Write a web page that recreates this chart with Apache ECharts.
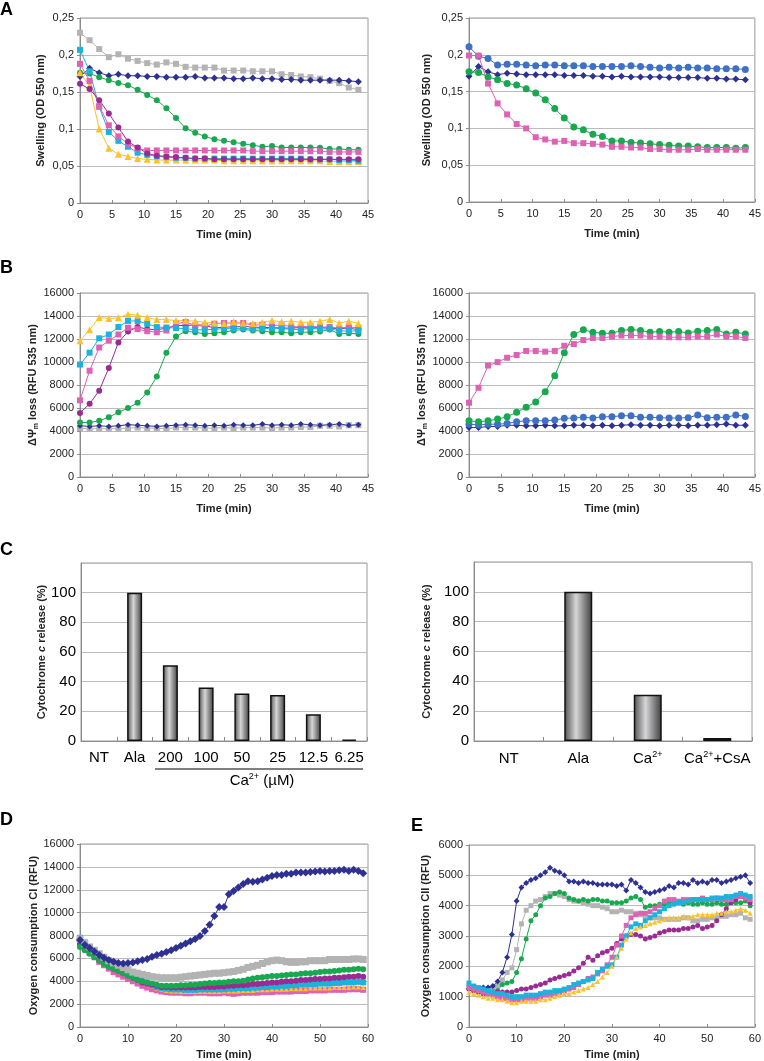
<!DOCTYPE html>
<html><head><meta charset="utf-8">
<script src="https://cdn.jsdelivr.net/npm/echarts@6/dist/echarts.min.js"></script>
<style>html,body{margin:0;padding:0;background:#fff}#c{width:764px;height:1061px}</style>
</head><body><div id="c"></div>
<script>
// ---------- DATA ----------
const tAB = [0,1.5,3,4.5,6,7.5,9,10.5,12,13.5,15,16.5,18,19.5,21,22.5,24,25.5,27,28.5,30,31.5,33,34.5,36,37.5,39,40.5,42,43.5];
const tDE = [0,1,2,3,4,5,6,7,8,9,10,11,12,13,14,15,16,17,18,19,20,21,22,23,24,25,26,27,28,29,30,31,32,33,34,35,36,37,38,39,40,41,42,43,44,45,46,47,48,49,50,51,52,53,54,55,56,57,58,59];

// Panel A left (swelling, OD 550 nm)
const aL_grey   = [0.230,0.220,0.208,0.197,0.201,0.195,0.192,0.189,0.187,0.190,0.188,0.184,0.183,0.183,0.183,0.179,0.179,0.179,0.178,0.178,0.178,0.174,0.173,0.171,0.170,0.168,0.165,0.162,0.156,0.153];
const aL_navy   = [0.171,0.182,0.176,0.172,0.174,0.172,0.172,0.171,0.171,0.170,0.170,0.170,0.171,0.169,0.169,0.169,0.168,0.168,0.169,0.168,0.168,0.167,0.167,0.166,0.166,0.166,0.166,0.166,0.165,0.164];
const aL_green  = [0.176,0.175,0.170,0.166,0.162,0.159,0.153,0.146,0.139,0.128,0.115,0.101,0.095,0.090,0.086,0.084,0.082,0.080,0.078,0.076,0.077,0.075,0.075,0.075,0.075,0.0745,0.073,0.073,0.072,0.072];
const aL_pink   = [0.188,0.165,0.131,0.105,0.090,0.080,0.074,0.071,0.071,0.071,0.071,0.071,0.071,0.071,0.071,0.071,0.071,0.071,0.070,0.070,0.070,0.070,0.070,0.070,0.070,0.070,0.069,0.069,0.069,0.069];
const aL_cyan   = [0.207,0.178,0.130,0.096,0.084,0.076,0.068,0.065,0.063,0.062,0.061,0.061,0.060,0.060,0.060,0.060,0.060,0.060,0.060,0.060,0.060,0.060,0.060,0.060,0.059,0.059,0.059,0.058,0.058,0.057];
const aL_purple = [0.161,0.154,0.139,0.121,0.102,0.083,0.075,0.067,0.064,0.063,0.062,0.061,0.060,0.060,0.059,0.059,0.059,0.059,0.059,0.059,0.059,0.059,0.059,0.059,0.059,0.059,0.059,0.059,0.059,0.059];
const aL_yellow = [0.176,0.158,0.100,0.074,0.066,0.063,0.060,0.059,0.058,0.058,0.058,0.058,0.058,0.058,0.058,0.057,0.057,0.057,0.057,0.057,0.057,0.057,0.057,0.057,0.057,0.057,0.056,0.056,0.056,0.056];

// Panel A right
const aR_blue  = [0.211,0.198,0.195,0.186,0.187,0.187,0.186,0.185,0.186,0.186,0.185,0.185,0.185,0.184,0.184,0.184,0.184,0.185,0.184,0.183,0.182,0.183,0.182,0.183,0.182,0.182,0.181,0.181,0.181,0.180];
const aR_navy  = [0.171,0.184,0.177,0.173,0.175,0.174,0.173,0.173,0.173,0.173,0.172,0.172,0.172,0.171,0.171,0.170,0.171,0.170,0.170,0.170,0.170,0.169,0.169,0.169,0.169,0.168,0.168,0.167,0.167,0.166];
const aR_green = [0.177,0.176,0.170,0.166,0.161,0.159,0.154,0.148,0.139,0.127,0.114,0.102,0.098,0.092,0.089,0.083,0.083,0.081,0.080,0.079,0.078,0.077,0.076,0.076,0.075,0.074,0.074,0.074,0.073,0.074];
const aR_pink  = [0.199,0.199,0.161,0.134,0.119,0.106,0.100,0.088,0.085,0.082,0.083,0.080,0.080,0.079,0.078,0.075,0.075,0.074,0.074,0.072,0.072,0.071,0.071,0.071,0.072,0.071,0.071,0.071,0.071,0.071];

// Panel B left (membrane potential loss, RFU 535 nm)
const bL_yellow = [11850,12800,13870,13780,13840,14160,14070,13870,13690,13690,13600,13600,13550,13450,13400,13350,13500,13400,13350,13450,13600,13500,13550,13450,13450,13550,13700,13400,13550,13350];
const bL_cyan   = [9780,10810,12060,12390,13040,13570,13570,13330,13040,13000,12950,12900,12800,12800,12850,12900,12900,12950,12850,12900,12950,12900,12850,12800,12950,12850,12900,12700,12700,12700];
const bL_pink   = [6670,9240,11260,11850,12390,12980,12860,12680,12590,12740,13330,13480,13190,13100,13330,13390,13390,13390,13190,13250,13190,13190,13100,13040,13130,13040,13040,12950,13040,12980];
const bL_purple = [5570,6370,7500,9480,11700,12650,13040,12860,12800,12950,13190,13160,13240,13190,12950,13040,13040,13100,13040,13000,13000,12950,12950,13000,12950,13000,12950,12900,12950,12800];
const bL_green  = [4740,4740,4890,5190,5630,5990,6460,7350,8740,10810,12210,12680,12590,12440,12500,12590,12740,12830,12740,12680,12590,12590,12500,12590,12590,12650,12830,12440,12500,12440];
const bL_navy   = [4450,4400,4450,4400,4450,4550,4500,4450,4400,4450,4500,4550,4500,4450,4500,4450,4550,4500,4500,4600,4500,4550,4500,4600,4550,4500,4550,4600,4500,4550];
const bL_grey   = [4250,4200,4200,4200,4200,4250,4300,4250,4250,4200,4300,4300,4300,4250,4250,4300,4250,4300,4300,4300,4250,4300,4300,4350,4350,4450,4450,4400,4500,4500];

// Panel B right
const bR_pink  = [6460,7760,9690,9990,10370,10610,10960,10960,10900,10960,11410,11560,11910,12090,12090,12210,12300,12300,12300,12210,12210,12150,12150,12150,12210,12210,12390,12210,12210,12090];
const bR_green = [4890,4800,4890,5040,5240,5630,6070,6520,7410,8800,10810,12390,12800,12590,12500,12500,12740,12830,12740,12590,12650,12590,12650,12530,12680,12740,12830,12440,12590,12440];
const bR_blue  = [4590,4530,4590,4590,4650,4800,4890,4890,4890,4950,5100,5130,5190,5130,5240,5240,5330,5330,5190,5190,5160,5130,5130,5160,5390,5160,5190,5190,5390,5270];
const bR_navy  = [4300,4300,4390,4390,4500,4500,4450,4450,4500,4450,4450,4500,4500,4450,4500,4450,4500,4550,4500,4500,4450,4500,4500,4450,4500,4500,4550,4600,4500,4500];

// Panel C (cytochrome c release, %)
const cL_cats = ['NT','Ala','200','100','50','25','12.5','6.25'];
const cL_vals = [0,100,51,36,32,31,18,1];
const cR_cats = ['NT','Ala','Ca2+','Ca2++CsA'];
const cR_vals = [0,100,31,2];

// Panel D (oxygen consumption CI, RFU)
const dNavy   = [7600,7200,6900,6600,6300,6050,5850,5700,5600,5550,5600,5650,5750,5850,5950,6150,6300,6400,6550,6700,6900,7100,7300,7500,7700,7950,8400,8950,9700,10500,10500,11600,11900,12200,12500,12750,12700,12750,12900,13050,13200,13300,13300,13400,13400,13500,13500,13500,13550,13600,13650,13600,13650,13650,13700,13750,13650,13750,13650,13450];
const dGrey   = [7700,7300,7000,6700,6400,6100,5800,5600,5400,5200,5000,4800,4700,4600,4500,4400,4350,4300,4300,4300,4300,4350,4400,4450,4500,4550,4600,4650,4700,4700,4750,4800,4850,4950,5050,5200,5300,5400,5550,5700,5800,5850,5800,5700,5650,5650,5700,5700,5800,5800,5800,5800,5900,5900,5900,5900,5900,5950,5950,5900];
const dGreen  = [7000,6700,6400,6100,5800,5500,5300,5100,4900,4700,4500,4300,4100,4000,3900,3800,3700,3600,3600,3600,3600,3650,3650,3700,3700,3750,3800,3850,3850,3900,3900,3950,4000,4000,4050,4150,4250,4300,4350,4400,4450,4450,4500,4550,4600,4600,4650,4700,4700,4750,4800,4850,4850,4900,4950,5000,5000,5050,5100,5050];
const dPurple = [7200,6800,6500,6200,5900,5600,5300,5100,4900,4700,4500,4300,4100,3900,3800,3700,3600,3500,3500,3450,3450,3450,3450,3450,3450,3500,3500,3500,3500,3550,3550,3600,3600,3650,3650,3700,3750,3750,3800,3850,3900,3900,3950,4000,4000,4050,4100,4100,4150,4200,4200,4250,4250,4300,4300,4350,4400,4400,4450,4400];
const dCyan   = [7800,7400,7000,6700,6400,6100,5800,5600,5400,5200,5000,4700,4400,4100,3900,3700,3500,3400,3350,3300,3300,3300,3250,3250,3250,3300,3300,3300,3300,3300,3300,3350,3350,3400,3400,3400,3450,3450,3500,3500,3550,3550,3600,3600,3650,3650,3700,3700,3750,3750,3800,3800,3800,3850,3850,3900,3900,3900,3950,3900];
const dYellow = [7600,7200,6800,6500,6200,5900,5600,5300,5000,4800,4600,4400,4200,4000,3800,3600,3400,3300,3200,3150,3150,3100,3100,3100,3100,3100,3100,3100,3100,3100,3150,3150,3150,3150,3200,3200,3200,3250,3250,3250,3300,3300,3300,3300,3350,3350,3350,3350,3400,3400,3400,3400,3400,3450,3450,3450,3450,3500,3500,3450];
const dPink   = [7400,6900,6500,6100,5700,5400,5100,4800,4600,4400,4200,4000,3800,3600,3450,3300,3200,3100,3050,3000,3000,3000,2950,2950,3000,3000,3000,2950,2950,2950,3000,2950,2900,2950,3000,3000,3000,3000,3050,3050,3050,3100,3100,3100,3100,3150,3150,3150,3200,3200,3200,3200,3250,3250,3250,3250,3300,3300,3300,3250];

// Panel E (oxygen consumption CII, RFU)
const eNavy   = [1250,1200,1250,1300,1300,1350,1500,1800,2300,3050,4150,4600,4750,4850,4900,5000,5100,5250,5150,5100,5000,4800,4800,4750,4800,4750,4750,4700,4700,4700,4700,4650,4700,4500,4850,4750,4600,4450,4400,4450,4500,4550,4650,4600,4750,4750,4700,4850,4750,4800,4750,4850,4850,4750,4800,4850,4900,4950,5000,4750];
const eGrey   = [1350,1300,1250,1250,1250,1250,1350,1550,1800,1950,2550,3400,3850,4000,4150,4200,4300,4400,4400,4350,4300,4200,4150,4150,4100,4050,4000,4000,3950,3900,3800,3800,3850,3800,3800,3750,3700,3650,3600,3600,3600,3550,3550,3550,3550,3600,3600,3500,3500,3550,3550,3600,3600,3650,3650,3700,3700,3750,3600,3550];
const eGreen  = [1250,1200,1150,1100,1100,1150,1200,1400,1450,1500,1800,2250,2900,3500,3700,4000,4250,4300,4400,4450,4400,4250,4200,4150,4200,4150,4200,4200,4150,4150,4100,4100,4100,4150,4250,4300,4200,3950,4000,4000,4050,4050,4100,4100,4100,4050,4100,4050,4050,4100,4050,4050,4100,4050,4050,4100,4100,4100,4150,4000];
const ePurple = [1250,1200,1150,1100,1100,1100,1150,1150,1150,1150,1200,1250,1250,1300,1350,1400,1450,1550,1600,1650,1700,1750,1850,1950,2100,2300,2200,2350,2450,2500,2600,2750,2900,3000,3050,3050,3000,2900,2950,3000,3100,3150,3200,3200,3200,3250,3250,3300,3350,3250,3300,3350,3500,3700,3900,4100,4200,4300,4250,4100];
const ePink   = [1300,1250,1200,1150,1100,1050,1000,950,950,900,900,900,950,950,950,1000,1050,1050,1100,1150,1200,1250,1300,1400,1500,1600,1650,1750,1850,2050,2300,2700,3000,3350,3600,3700,3750,3750,3800,3900,4000,4150,4200,4200,4150,4200,4200,4200,4200,4250,4200,4200,4250,4200,4200,4200,4300,4300,4250,4200];
const eCyan   = [1450,1350,1300,1250,1200,1150,1100,1100,1050,1000,1000,1000,1050,1050,1050,1100,1150,1150,1200,1200,1250,1300,1400,1450,1500,1550,1600,1800,1900,2000,2050,2300,2700,3000,3300,3400,3350,3500,3600,3700,3800,3900,4000,4050,4100,4100,4150,4200,4200,4200,4200,4250,4250,4250,4300,4300,4350,4400,4350,4300];
const eYellow = [1150,1100,1050,1000,950,950,900,900,850,800,800,850,850,850,850,900,900,950,1000,1050,1100,1100,1150,1200,1250,1300,1400,1500,1650,1800,2000,2300,2600,2900,3100,3250,3300,3350,3400,3450,3500,3550,3600,3600,3600,3650,3600,3650,3700,3700,3700,3700,3750,3750,3800,3800,3850,3900,3850,3750];

// ---------- STYLE ----------
const FONT = 'Arial, "Liberation Sans", Helvetica, sans-serif';
const COL = {navy:'#2e3192', grey:'#b3b3b3', green:'#18a84f', pink:'#de62b4', cyan:'#1db2dc', yellow:'#fdc22a', purple:'#9a2b93', blue:'#3e70c6'};
const GRIDLINE = '#bcbcbc', AXIS = '#8c8c8c', TXT = '#222';
const NFS = 11; // axis-name font size

const grids = [
  {left:80, top:18, width:288, height:185},
  {left:469, top:18, width:286, height:184},
  {left:80, top:293, width:288, height:184},
  {left:469, top:293, width:286, height:184},
  {left:81, top:563, width:286, height:178},
  {left:474, top:562, width:278, height:179},
  {left:80, top:844, width:288, height:183},
  {left:469, top:845, width:287, height:183}
].map(g => Object.assign({show:true, borderColor:'#9a9a9a', borderWidth:1, containLabel:false}, g));

const plainFmt = v => String(v);

function xVal(gi, max, interval, gap) {
  return {type:'value', gridIndex:gi, min:0, max:max, interval:interval,
    splitLine:{show:false}, axisLine:{lineStyle:{color:AXIS}}, axisTick:{inside:true, length:3, lineStyle:{color:AXIS}},
    axisLabel:{color:TXT, fontSize:11, fontFamily:FONT, margin:6, formatter:plainFmt},
    name:'Time (min)', nameLocation:'middle', nameGap:gap,
    nameTextStyle:{color:TXT, fontSize:NFS, fontWeight:'bold', fontFamily:FONT}};
}
function yVal(gi, max, interval, name, gap, fmt, rich) {
  const ax = {type:'value', gridIndex:gi, min:0, max:max, interval:interval,
    splitLine:{show:true, lineStyle:{color:GRIDLINE}}, axisLine:{show:true, lineStyle:{color:AXIS}},
    axisTick:{show:true, length:3, lineStyle:{color:AXIS}},
    axisLabel:{color:TXT, fontSize:11, fontFamily:FONT, margin:6, formatter: fmt || plainFmt},
    name:name, nameLocation:'middle', nameGap:gap,
    nameTextStyle:{color:TXT, fontSize:NFS, fontWeight:'bold', fontFamily:FONT}};
  if (rich) ax.nameTextStyle.rich = rich;
  return ax;
}
const commaFmt = v => String(Math.round(v*100)/100).replace('.', ',');
const psiRich = {a:{fontSize:NFS, fontWeight:'bold', color:TXT, fontFamily:FONT, lineHeight:13},
                 s:{fontSize:7, fontWeight:'bold', color:TXT, fontFamily:FONT, lineHeight:4, verticalAlign:'bottom'}};
const cytRich = {n:{fontSize:NFS, fontWeight:'bold', color:TXT, fontFamily:FONT},
                 i:{fontSize:NFS, fontWeight:'bold', fontStyle:'italic', color:TXT, fontFamily:FONT}};

function ln(gi, times, vals, color, symbol, size) {
  return {type:'line', xAxisIndex:gi, yAxisIndex:gi, data:times.map((t,i)=>[t, vals[i]]),
    symbol:symbol, symbolSize:size, showSymbol:true, showAllSymbol:true,
    lineStyle:{color:color, width:1}, itemStyle:{color:color}, animation:false};
}

const barGrad = new echarts.graphic.LinearGradient(0,0,1,0,[
  {offset:0, color:'#505050'},{offset:0.42, color:'#d6d6d8'},{offset:1, color:'#3c3c3c'}]);
function bars(gi, vals, w) {
  return {type:'bar', xAxisIndex:gi, yAxisIndex:gi, barWidth:w, animation:false,
    data: vals.map(v => v === 0 ? {value:0, itemStyle:{borderWidth:0}} : v),
    itemStyle:{color:barGrad, borderColor:'#111', borderWidth:1.5}};
}
const CFS = 15;
function xCat(gi, cats, fmt) {
  const ax = {type:'category', gridIndex:gi, data:cats,
    axisLine:{lineStyle:{color:AXIS}}, axisTick:{show:true, inside:true, length:4, lineStyle:{color:AXIS}},
    axisLabel:{color:'#000', fontSize:CFS, fontFamily:FONT, margin:9, interval:0}};
  if (fmt) {
    ax.axisLabel.formatter = fmt;
    ax.axisLabel.rich = {a:{fontSize:CFS, color:'#000', fontFamily:FONT, lineHeight:18},
                         s:{fontSize:9, color:'#000', fontFamily:FONT, lineHeight:10, verticalAlign:'top'}};
  }
  return ax;
}
function yC(gi, gap) {
  const ax = yVal(gi, 120, 20, '{n|Cytochrome }{i|c}{n| release (%)}', gap, v => v === 120 ? '' : String(v), cytRich);
  ax.axisLabel.fontSize = CFS; ax.axisLabel.color = '#000'; ax.axisLabel.margin = 5;
  ax.axisTick.show = false;
  return ax;
}
const caFmt = v => v === 'Ca2+' ? '{a|Ca}{s|2+}' : (v === 'Ca2++CsA' ? '{a|Ca}{s|2+}{a|+CsA}' : '{a|' + v + '}');

const letter = (t, x, y, size) => ({type:'text', x:x, y:y, style:{text:t, font:'bold ' + (size||18) + 'px ' + FONT, fill:'#000'}});

const option = {
  backgroundColor:'#fff',
  animation:false,
  grid: grids,
  xAxis: [
    xVal(0,45,5,26), xVal(1,45,5,26), xVal(2,45,5,26), xVal(3,45,5,26),
    xCat(4, cL_cats), xCat(5, cR_cats, caFmt),
    xVal(6,60,10,22), xVal(7,60,10,22)
  ],
  yAxis: [
    yVal(0,0.25,0.05,'Swelling (OD 550 nm)',34,commaFmt),
    yVal(1,0.25,0.05,'Swelling (OD 550 nm)',37,commaFmt),
    yVal(2,16000,2000,'{a|ΔΨ}{s|m}{a| loss (RFU 535 nm)}',31,null,psiRich),
    yVal(3,16000,2000,'{a|ΔΨ}{s|m}{a| loss (RFU 535 nm)}',37,null,psiRich),
    yC(4,34), yC(5,42),
    yVal(6,16000,2000,'Oxygen consumption CI (RFU)',41),
    yVal(7,6000,1000,'Oxygen consumption CII (RFU)',38)
  ],
  series: [
    ln(0,tAB,aL_grey,COL.grey,'rect',6),
    ln(0,tAB,aL_navy,COL.navy,'diamond',7),
    ln(0,tAB,aL_green,COL.green,'circle',6),
    ln(0,tAB,aL_yellow,COL.yellow,'triangle',7),
    ln(0,tAB,aL_cyan,COL.cyan,'rect',6),
    ln(0,tAB,aL_pink,COL.pink,'rect',6),
    ln(0,tAB,aL_purple,COL.purple,'circle',6),

    ln(1,tAB,aR_blue,COL.blue,'circle',7),
    ln(1,tAB,aR_navy,COL.navy,'diamond',7),
    ln(1,tAB,aR_green,COL.green,'circle',7),
    ln(1,tAB,aR_pink,COL.pink,'rect',6),

    ln(2,tAB,bL_grey,COL.grey,'rect',6),
    ln(2,tAB,bL_navy,COL.navy,'diamond',6),
    ln(2,tAB,bL_green,COL.green,'circle',6),
    ln(2,tAB,bL_purple,COL.purple,'circle',6),
    ln(2,tAB,bL_pink,COL.pink,'rect',6),
    ln(2,tAB,bL_cyan,COL.cyan,'rect',6),
    ln(2,tAB,bL_yellow,COL.yellow,'triangle',7),

    ln(3,tAB,bR_navy,COL.navy,'diamond',7),
    ln(3,tAB,bR_blue,COL.blue,'circle',7),
    ln(3,tAB,bR_green,COL.green,'circle',7),
    ln(3,tAB,bR_pink,COL.pink,'rect',6),

    bars(4, cL_vals, 15),
    bars(5, cR_vals, 28),

    ln(6,tDE,dPink,COL.pink,'rect',6),
    ln(6,tDE,dYellow,COL.yellow,'triangle',5),
    ln(6,tDE,dCyan,COL.cyan,'rect',6),
    ln(6,tDE,dPurple,COL.purple,'circle',6),
    ln(6,tDE,dGreen,COL.green,'circle',6),
    ln(6,tDE,dGrey,COL.grey,'rect',7),
    ln(6,tDE,dNavy,COL.navy,'diamond',8),

    ln(7,tDE,eGrey,COL.grey,'rect',5),
    ln(7,tDE,eNavy,COL.navy,'diamond',6),
    ln(7,tDE,eGreen,COL.green,'circle',5),
    ln(7,tDE,ePurple,COL.purple,'circle',5),
    ln(7,tDE,ePink,COL.pink,'rect',5),
    ln(7,tDE,eCyan,COL.cyan,'rect',5),
    ln(7,tDE,eYellow,COL.yellow,'triangle',5)
  ],
  graphic: [
    letter('A', 0, 1), letter('B', 0, 259), letter('C', 0, 541), letter('D', 0, 811), letter('E', 411, 817),
    {type:'line', shape:{x1:155, y1:769, x2:363, y2:769}, style:{stroke:'#000', lineWidth:1.2}},
    {type:'text', x:262, y:781, style:{text:'{a|Ca}{s|2+}{a| (µM)}', align:'center', verticalAlign:'middle',
      rich:{a:{fontSize:CFS, fill:'#000', fontFamily:FONT, lineHeight:18}, s:{fontSize:9, fill:'#000', fontFamily:FONT, lineHeight:10, verticalAlign:'top'}}}}
  ]
};
const chart = echarts.init(document.getElementById('c'), null, {renderer:'canvas'});
chart.setOption(option);
</script></body></html>
